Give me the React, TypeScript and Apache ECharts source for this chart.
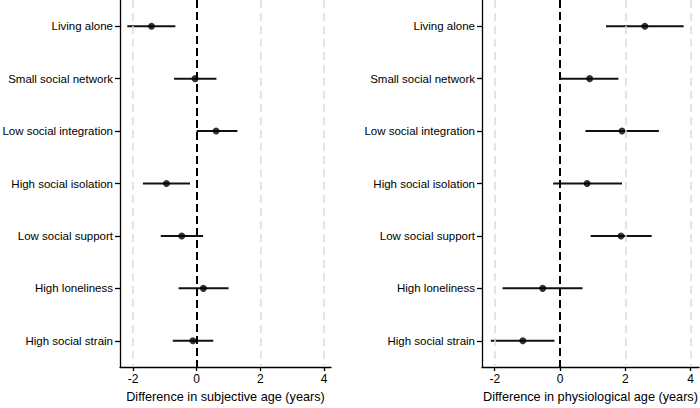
import React, { useEffect, useRef } from "react";
import * as echarts from "echarts";

// Social relationship indicators, top to bottom
const categories = [
  "Living alone",
  "Small social network",
  "Low social integration",
  "High social isolation",
  "Low social support",
  "High loneliness",
  "High social strain",
];

// Difference in subjective age (years): estimate and 95% CI
const subjectiveEst = [-1.42, -0.05, 0.61, -0.95, -0.47, 0.21, -0.12];
const subjectiveLow = [-2.18, -0.71, 0.0, -1.69, -1.13, -0.57, -0.75];
const subjectiveHigh = [-0.67, 0.62, 1.28, -0.21, 0.2, 1.0, 0.52];

// Difference in physiological age (years): estimate and 95% CI
const physioEst = [2.6, 0.91, 1.9, 0.83, 1.87, -0.53, -1.14];
const physioLow = [1.41, 0.02, 0.78, -0.21, 0.94, -1.76, -2.12];
const physioHigh = [3.79, 1.79, 3.03, 1.9, 2.81, 0.69, -0.17];

const tickValues = [-2, 0, 2, 4];
const gridLineValues = [-2, 2, 4];
const referenceValue = 0;

const FONT = "'Liberation Sans', Arial, sans-serif";

function intervalSeries(axisIndex: number, low: number[], high: number[]) {
  return {
    type: "custom",
    xAxisIndex: axisIndex,
    yAxisIndex: axisIndex,
    z: 3,
    silent: true,
    encode: { x: [1, 2], y: 0 },
    data: categories.map((_, i) => [i, low[i], high[i]]),
    renderItem: (_params: any, api: any) => {
      const row = api.value(0);
      const a = api.coord([api.value(1), row]);
      const b = api.coord([api.value(2), row]);
      return {
        type: "line",
        shape: { x1: a[0], y1: a[1], x2: b[0], y2: b[1] },
        style: { stroke: "#111", lineWidth: 2 },
      };
    },
  };
}

function pointSeries(axisIndex: number, est: number[]) {
  return {
    type: "scatter",
    xAxisIndex: axisIndex,
    yAxisIndex: axisIndex,
    z: 4,
    silent: true,
    symbol: "circle",
    symbolSize: 7,
    itemStyle: { color: "#000" },
    data: est.map((v, i) => [v, i]),
  };
}

function guideSeries(axisIndex: number) {
  return {
    type: "scatter",
    xAxisIndex: axisIndex,
    yAxisIndex: axisIndex,
    z: 1,
    silent: true,
    data: [],
    markLine: {
      silent: true,
      symbol: ["none", "none"],
      label: { show: false },
      animation: false,
      data: [
        ...gridLineValues.map((v) => ({
          xAxis: v,
          lineStyle: { color: "#dcdcdc", width: 1.5, type: [8, 5] },
        })),
        {
          xAxis: referenceValue,
          lineStyle: { color: "#000", width: 2, type: [8, 4] },
        },
      ],
    },
  };
}

function xAxisFor(gridIndex: number, name: string, min: number, max: number) {
  return {
    type: "value",
    gridIndex,
    min,
    max,
    name,
    nameLocation: "middle",
    nameGap: 23,
    nameTextStyle: { fontFamily: FONT, fontSize: 12.7, color: "#000" },
    splitLine: { show: false },
    axisLine: { show: true, onZero: false, lineStyle: { color: "#000", width: 1.3 } },
    axisTick: {
      show: true,
      length: 4,
      customValues: tickValues,
      lineStyle: { color: "#000", width: 1.3 },
    },
    axisLabel: {
      customValues: tickValues,
      margin: 6,
      fontFamily: FONT,
      fontSize: 12,
      color: "#000",
    },
  };
}

function yAxisFor(gridIndex: number) {
  return {
    type: "category",
    gridIndex,
    data: categories,
    inverse: true,
    axisLine: { show: true, onZero: false, lineStyle: { color: "#000", width: 1.3 } },
    axisTick: {
      show: true,
      alignWithLabel: true,
      interval: 0,
      length: 5,
      lineStyle: { color: "#000", width: 1.3 },
    },
    axisLabel: {
      interval: 0,
      margin: 7,
      fontFamily: FONT,
      fontSize: 11.5,
      color: "#000",
    },
    splitLine: { show: false },
  };
}

export default function App() {
  const ref = useRef<HTMLDivElement>(null);

  useEffect(() => {
    if (!ref.current) return;
    const chart = echarts.init(ref.current, undefined, { renderer: "svg" });
    chart.setOption({
      animation: false,
      backgroundColor: "#fff",
      grid: [
        { left: 120, top: 0, width: 211, height: 367, containLabel: false, outerBoundsMode: "none" },
        { left: 482, top: 0, width: 217, height: 367, containLabel: false, outerBoundsMode: "none" },
      ],
      xAxis: [
        xAxisFor(0, "Difference in subjective age (years)", -2.41, 4.22),
        xAxisFor(1, "Difference in physiological age (years)", -2.39, 4.26),
      ],
      yAxis: [yAxisFor(0), yAxisFor(1)],
      series: [
        guideSeries(0),
        intervalSeries(0, subjectiveLow, subjectiveHigh),
        pointSeries(0, subjectiveEst),
        guideSeries(1),
        intervalSeries(1, physioLow, physioHigh),
        pointSeries(1, physioEst),
      ],
    });
    return () => chart.dispose();
  }, []);

  return (
    <div
      ref={ref}
      style={{ position: "fixed", left: 0, top: 0, width: 700, height: 408 }}
    />
  );
}
